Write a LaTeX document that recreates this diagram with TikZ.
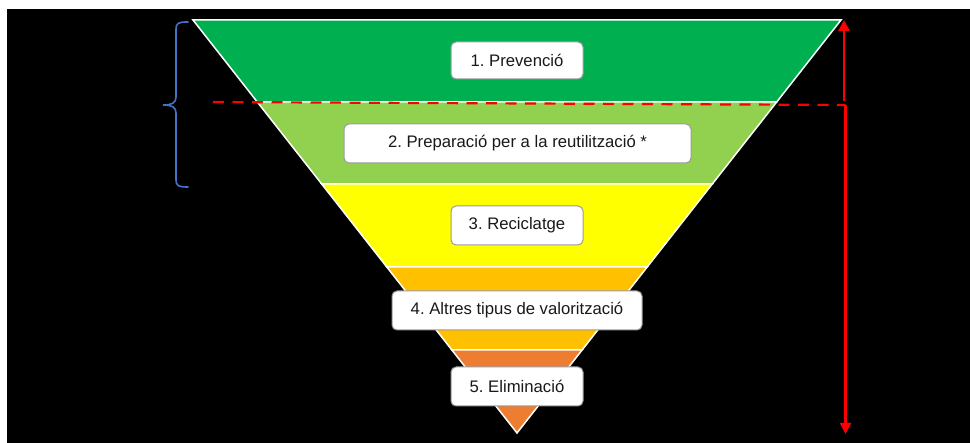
\documentclass[tikz,border=0pt]{standalone}
\usepackage{fontspec}
\setmainfont{Liberation Sans}
\usetikzlibrary{arrows.meta}
\frenchspacing
\definecolor{gA}{HTML}{00B050}
\definecolor{gB}{HTML}{92D050}
\definecolor{yC}{HTML}{FFFF00}
\definecolor{oD}{HTML}{FFC000}
\definecolor{oE}{HTML}{ED7D31}
\definecolor{braceblue}{HTML}{4472C4}
\definecolor{boxgray}{HTML}{9A9A9A}
\tikzset{
  band/.style={draw=white, line width=1.5pt, line join=miter},
  label box/.style={draw=boxgray, line width=1pt, fill=white, rounded corners=5pt,
    inner sep=0pt, font=\frenchspacing\fontsize{16.7}{19}\selectfont, text=black!90},
  redline/.style={draw=red, line width=2.2pt},
  redarrow/.style={redline, -{Triangle[width=11pt,length=11pt]}},
}
\begin{document}
\begin{tikzpicture}[x=1pt,y=-1pt]
\useasboundingbox (0,0) rectangle (970,443);
\fill[white] (0,0) rectangle (970,443);
\fill[black] (7,9) rectangle (970,443);
% bands
\filldraw[band, fill=gA] (193,20) -- (841,20) -- (776.7,102) -- (257.3,102) -- cycle;
\filldraw[band, fill=gB] (257.3,102) -- (776.7,102) -- (712.3,184) -- (321.7,184) -- cycle;
\filldraw[band, fill=yC] (321.7,184) -- (712.3,184) -- (647.2,267) -- (386.8,267) -- cycle;
\filldraw[band, fill=oD] (386.8,267) -- (647.2,267) -- (582.1,350) -- (451.9,350) -- cycle;
\filldraw[band, fill=oE] (451.9,350) -- (582.1,350) -- (517,433) -- cycle;
% labels
\node[label box, minimum width=132pt, minimum height=37pt] (n1) at (517,60.5) {1. Prevenció};
\node[label box, minimum width=347pt, minimum height=39pt] (n2) at (517.5,143.5) {2. Preparació per a la reutilització *};
\node[label box, minimum width=132pt, minimum height=39pt] (n3) at (517,225.5) {3. Reciclatge};
\node[label box, minimum width=250pt, minimum height=39pt] (n4) at (517,310.5) {4. Altres tipus de valorització};
\node[label box, minimum width=132pt, minimum height=39pt] (n5) at (517,386.5) {5. Eliminació};
% red dashed line and arrows
\coordinate (dl) at (213,102);
\coordinate (dr) at (845.5,105);
\coordinate (ub) at (844,101);
\coordinate (ut) at (844,20);
\coordinate (db) at (845.5,434);
\draw[redline, dash pattern=on 11pt off 8.5pt] (dl) -- (dr);
\draw[redarrow] (ub) -- (ut);
\draw[redarrow] (dr) -- (db);
% brace
\draw[braceblue, line width=1.6pt, line cap=round]
  (188,22) .. controls (178,22) and (176,23) .. (176,30) -- (176,97)
  .. controls (176,103) and (172,105) .. (163,105)
  .. controls (172,105) and (176,107) .. (176,113) -- (176,179)
  .. controls (176,186) and (178,187) .. (188,187);
\end{tikzpicture}
\end{document}
